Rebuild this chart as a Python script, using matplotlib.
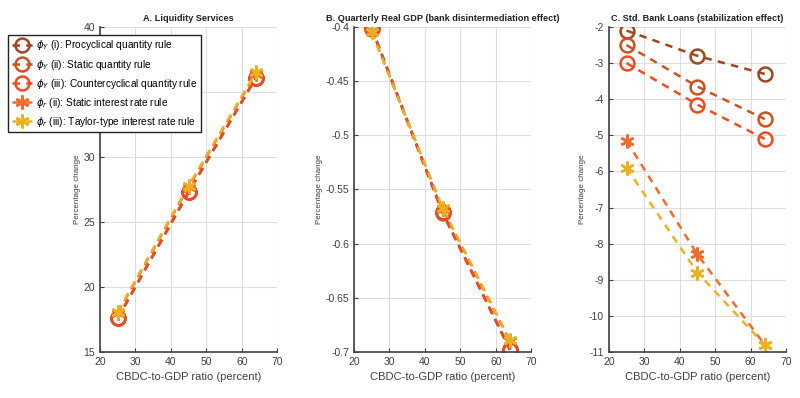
import matplotlib.pyplot as plt

plt.rcParams['font.family'] = ['Liberation Sans', 'DejaVu Sans']

# CBDC-to-GDP ratio (percent)
cbdc_ratio = [25, 45, 64]

labels = [r'$\phi_Y$ (i): Procyclical quantity rule',
          r'$\phi_Y$ (ii): Static quantity rule',
          r'$\phi_Y$ (iii): Countercyclical quantity rule',
          r'$\phi_r$ (ii): Static interest rate rule',
          r'$\phi_r$ (iii): Taylor-type interest rate rule']
colors = ['#A0461E', '#D0501E', '#F04A1E', '#F26B2A', '#EDB120']
markers = ['o', 'o', 'o', (6, 2, 0), (6, 2, 0)]

# A. Liquidity Services
liq_pro = [17.6, 27.3, 36.1]
liq_static = [17.6, 27.3, 36.1]
liq_counter = [17.6, 27.3, 36.1]
liq_irate = [18.0, 27.7, 36.4]
liq_taylor = [18.1, 27.8, 36.5]

# B. Quarterly Real GDP
gdp_pro = [-0.401, -0.571, -0.698]
gdp_static = [-0.401, -0.571, -0.698]
gdp_counter = [-0.402, -0.572, -0.697]
gdp_irate = [-0.404, -0.568, -0.690]
gdp_taylor = [-0.405, -0.567, -0.689]

# C. Std. Bank Loans
loans_pro = [-2.1, -2.8, -3.3]
loans_static = [-2.5, -3.65, -4.55]
loans_counter = [-3.0, -4.15, -5.1]
loans_irate = [-5.15, -8.3, -10.8]
loans_taylor = [-5.9, -8.8, -10.8]

panels = [
    ('A. Liquidity Services', [liq_pro, liq_static, liq_counter, liq_irate, liq_taylor],
     (15, 40), [15, 20, 25, 30, 35, 40]),
    ('B. Quarterly Real GDP (bank disintermediation effect)',
     [gdp_pro, gdp_static, gdp_counter, gdp_irate, gdp_taylor],
     (-0.7, -0.4), [-0.7, -0.65, -0.6, -0.55, -0.5, -0.45, -0.4]),
    ('C. Std. Bank Loans (stabilization effect)',
     [loans_pro, loans_static, loans_counter, loans_irate, loans_taylor],
     (-11, -2), list(range(-11, -1))),
]

fig = plt.figure(figsize=(8, 3.98), dpi=100)
lefts = [0.125, 0.4425, 0.761]
handles = []
for i, (title, series, ylim, yticks) in enumerate(panels):
    ax = fig.add_axes([lefts[i], 0.1156, 0.2215, 0.8166])
    for s, c, m in zip(series, colors, markers):
        h, = ax.plot(cbdc_ratio, s, linestyle=(0, (3, 2.5)), color=c, linewidth=1.8,
                     marker=m, markersize=10, markerfacecolor='none',
                     markeredgecolor=c, markeredgewidth=1.8)
        if i == 0:
            handles.append(h)
    ax.set_xlim(20, 70)
    ax.set_ylim(*ylim)
    ax.set_xticks([20, 30, 40, 50, 60, 70])
    ax.set_yticks(yticks)
    ax.set_yticklabels([('%g' % t) for t in yticks])
    ax.grid(True, color='#DEDEDE', linewidth=0.8)
    ax.set_axisbelow(True)
    for side in ['top', 'right']:
        ax.spines[side].set_visible(False)
    for side in ['left', 'bottom']:
        ax.spines[side].set_color('#404040')
        ax.spines[side].set_linewidth(1.2)
    ax.tick_params(direction='in', length=3, labelsize=7.5, colors='#404040')
    ax.set_title(title, fontsize=6.6, fontweight='bold', color='#222222', pad=4)
    ax.set_xlabel('CBDC-to-GDP ratio (percent)', fontsize=8, color='#404040')
    ax.set_ylabel('Percentage change', fontsize=5.8, color='#404040', labelpad=2)

leg = fig.legend(handles, labels, loc='upper left', bbox_to_anchor=(0.004, 0.925),
                 fontsize=7.3, frameon=True, fancybox=False, edgecolor='#222222',
                 handlelength=2.0, borderpad=0.35, labelspacing=0.5, handletextpad=0.4,
                 framealpha=1)
leg.get_frame().set_linewidth(1.0)

plt.savefig('out.png', dpi=100)
